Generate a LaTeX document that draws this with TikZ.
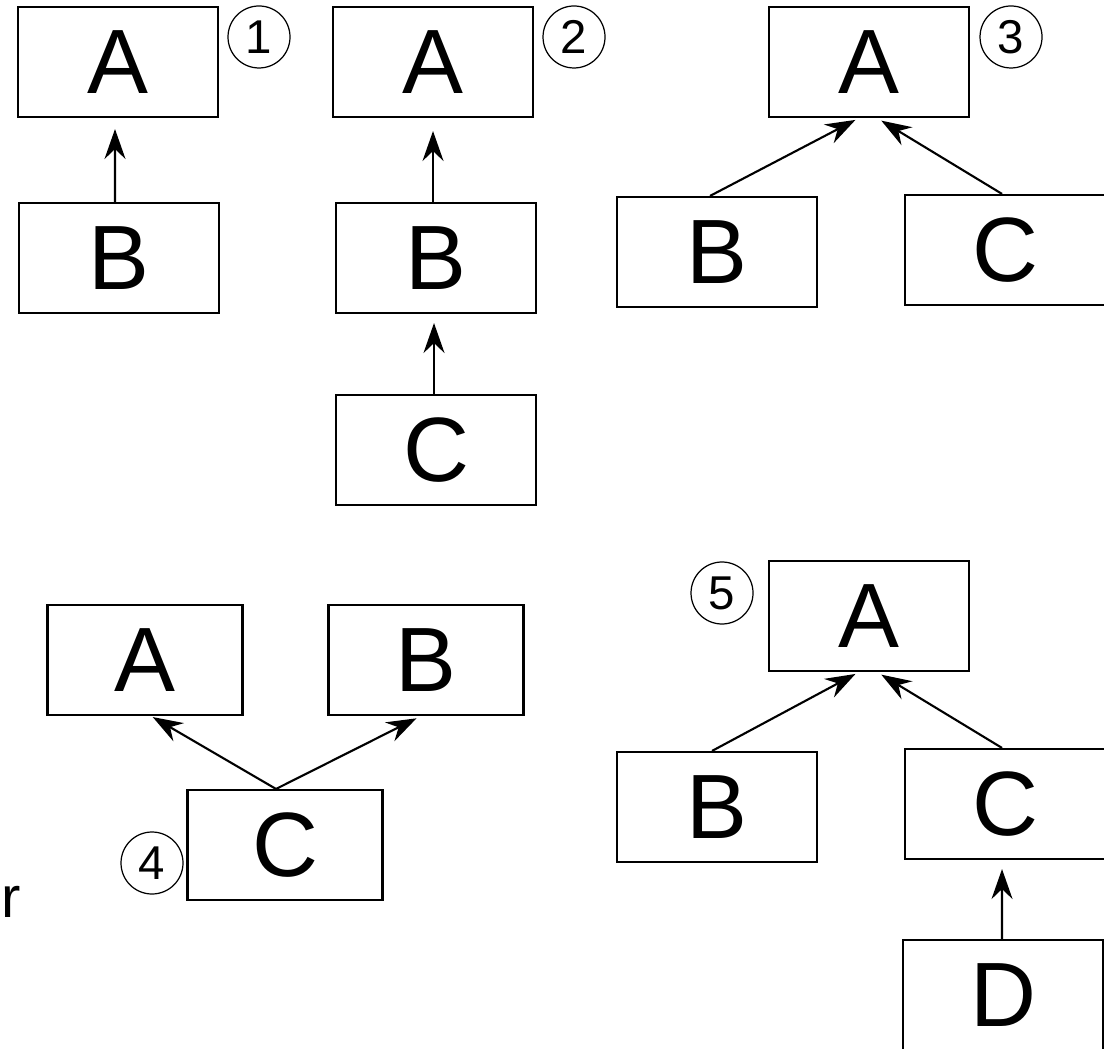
\documentclass[tikz,border=0pt]{standalone}
\usepackage{fontspec}
\setmainfont{Liberation Sans}
\usetikzlibrary{arrows.meta}

\begin{document}
\begin{tikzpicture}[
  box/.style={draw,line width=0.6pt,minimum width=2cm,minimum height=1.1cm,inner sep=0pt,font=\fontsize{26}{30}\selectfont},
  num/.style={circle,draw,line width=0.35pt,minimum size=0.62cm,inner sep=0pt,font=\fontsize{13.5}{15}\selectfont},
  arr/.style={line width=0.6pt,-{Stealth[length=0.3cm,width=0.21cm,inset=0.1cm]}}]
\useasboundingbox (0,0) rectangle (11.04,10.48);
\clip (0,0) rectangle (11.04,10.48);
% case 1
\node[box] (A1) at (1.18,9.86) {A};
\node[box] (B1) at (1.19,7.90) {B};
\node[num] (n1) at (2.59,10.11) {1};
% case 2
\node[box] (A2) at (4.33,9.86) {A};
\node[box] (B2) at (4.36,7.90) {B};
\node[box] (C2) at (4.36,5.98) {C};
\node[num] (n2) at (5.74,10.11) {2};
% case 3
\node[box] (A3) at (8.69,9.86) {A};
\node[box] (B3) at (7.17,7.96) {B};
\node[box] (C3) at (10.05,7.98) {C};
\node[num] (n3) at (10.11,10.11) {3};
% case 4
\node[box,minimum width=1.95cm] (A4) at (1.45,3.88) {A};
\node[box,minimum width=1.95cm] (B4) at (4.26,3.88) {B};
\node[box,minimum width=1.95cm] (C4) at (2.85,2.03) {C};
\node[num] (n4) at (1.52,1.85) {4};
% case 5
\node[box] (A5) at (8.69,4.32) {A};
\node[box] (B5) at (7.17,2.41) {B};
\node[box] (C5) at (10.05,2.44) {C};
\node[box] (D5) at (10.03,0.53) {D};
\node[num] (n5) at (7.22,4.55) {5};
\node[anchor=base west,inner sep=0pt,font=\fontsize{16.5}{18}\selectfont] (frag) at (0.01,1.31) {r};
% arrows
\draw[arr,shorten >=0.11cm] ([xshift=-0.04cm]B1.north) -- ([xshift=-0.03cm]A1.south);
\draw[arr,shorten >=0.13cm] ([xshift=-0.03cm]B2.north) -- ([xshift=0cm]A2.south);
\draw[arr,shorten >=0.09cm] ([xshift=-0.02cm]C2.north) -- ([xshift=-0.02cm]B2.south);
\draw[arr,shorten >=0.04cm] ([xshift=-0.07cm]B3.north) -- ([xshift=-0.1cm]A3.south);
\draw[arr,shorten >=0.05cm] ([xshift=-0.03cm]C3.north) -- ([xshift=0.08cm]A3.south);
\draw[arr,shorten >=0.02cm] ([xshift=-0.09cm]C4.north) -- ([xshift=0.06cm]A4.south);
\draw[arr,shorten >=0.05cm] ([xshift=-0.09cm]C4.north) -- ([xshift=-0.05cm]B4.south);
\draw[arr,shorten >=0.04cm] ([xshift=-0.05cm]B5.north) -- ([xshift=-0.1cm]A5.south);
\draw[arr,shorten >=0.05cm] ([xshift=-0.03cm]C5.north) -- ([xshift=0.08cm]A5.south);
\draw[arr,shorten >=0.09cm] ([xshift=-0.01cm]D5.north) -- ([xshift=-0.03cm]C5.south);
\end{tikzpicture}
\end{document}
